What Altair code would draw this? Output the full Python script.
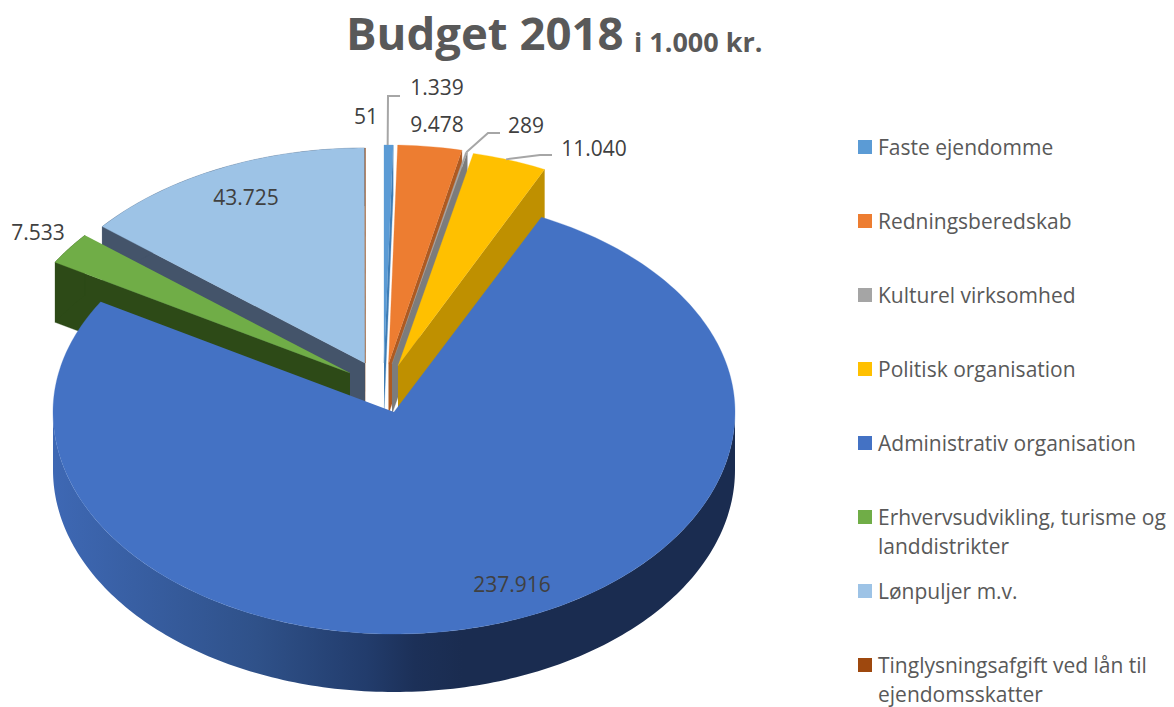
import numpy as np
import pandas as pd
import altair as alt

# ---- data
categories = ["Faste ejendomme", "Redningsberedskab", "Kulturel virksomhed", "Politisk organisation",
              "Administrativ organisation", "Erhvervsudvikling, turisme og landdistrikter",
              "Lønpuljer m.v.", "Tinglysningsafgift ved lån til ejendomsskatter"]
values = [1339, 9478, 289, 11040, 237916, 7533, 43725, 51]
value_labels = ["1.339", "9.478", "289", "11.040", "237.916", "7.533", "43.725", "51"]

# ---- styles
top_colors = ["#5B9BD5", "#ED7D31", "#A5A5A5", "#FFC000", "#4472C4", "#70AD47", "#9DC3E6", "#9E480E"]
wall_colors = ["#3F7DB5", "#AE5A21", "#7C7C7C", "#BF9000", "#223C6B", "#2D4A17", "#44546A", "#6E320A"]
legend_lines = [["Faste ejendomme"], ["Redningsberedskab"], ["Kulturel virksomhed"], ["Politisk organisation"],
                ["Administrativ organisation"], ["Erhvervsudvikling, turisme og", "landdistrikter"],
                ["Lønpuljer m.v."], ["Tinglysningsafgift ved lån til", "ejendomsskatter"]]

# ---- layout (page pixels)
apex = [(384, 363), (388.5, 364), (392, 364), (398, 366), (394, 412), (350, 373), (365, 363), (365.4, 363)]
radii_x = [339, 339, 339, 339, 341, 343, 340, 340]
radii_back = [218, 219, 217, 218, 216, 217, 215, 215]   # half height behind the centre
radii_front = [218, 219, 217, 218, 222, 217, 215, 215]  # half height in front of the centre
depth = [50, 50, 50, 50, 58, 60, 58, 58]
draw_order = [6, 7, 5, 0, 1, 2, 3, 4]
label_pos = [(437, 87), (437, 124), (526, 125), (594, 148), (512, 584), (38, 232), (246, 197), (366, 116)]
legend_y = [147, 221, 295, 369, 443, 517, 591, 665]
leader_slices = [(0, 0.4, [(388, 96), (400, 96)]), (2, 0.5, [(488, 133), (500, 133)]),
                 (3, 0.45, [(540, 155), (552, 155)])]

W, H = 1158, 699
xs = alt.X("x:Q", scale=alt.Scale(domain=[8, 8 + W], nice=False, zero=False), axis=None)
ys = alt.Y("y:Q", scale=alt.Scale(domain=[8 + H, 8], nice=False, zero=False), axis=None)

bounds = np.concatenate([[0], np.cumsum(values)]) / sum(values) * 2 * np.pi


def rim(i, t, dz=0.0):
    ax, ay = apex[i]
    c = np.cos(t)
    ry = np.where(c >= 0, radii_back[i], radii_front[i])
    return ax + radii_x[i] * np.sin(t), ay - ry * c + dz


def poly(px, py, **mark):
    d = pd.DataFrame({"x": px, "y": py, "k": np.arange(len(px))})
    return alt.Chart(d).mark_line(**mark).encode(x=xs, y=ys, order="k:Q")


def shape(px, py, color):
    return poly(px, py, fill=color, stroke=color, strokeWidth=0.3)


layers = []
for i in draw_order:
    a0, a1 = bounds[i], bounds[i + 1]
    ax, ay = apex[i]
    dz = depth[i]
    t = np.linspace(a0, a1, max(3, int((a1 - a0) * 60)))
    if i == 4:
        # curved outer wall of the big slice, shaded left to right
        tw = np.linspace(np.pi * 0.5, np.pi * 1.5, 181)
        x1, y1 = rim(i, tw)
        x2, y2 = rim(i, tw[::-1], dz)
        grad = alt.Gradient(gradient="linear", x1=0, y1=0, x2=1, y2=0, stops=[
            alt.GradientStop(color="#3E68B4", offset=0),
            alt.GradientStop(color="#2F5189", offset=0.3),
            alt.GradientStop(color="#223C6C", offset=0.46),
            alt.GradientStop(color="#1C3058", offset=0.53),
            alt.GradientStop(color="#1A2C50", offset=0.6),
            alt.GradientStop(color="#1A2C50", offset=1)])
        layers.append(poly(np.r_[x1, x2], np.r_[y1, y2], fill=grad, strokeWidth=0))
    else:
        # radial wall that faces the viewer, then the outer wall where it shows
        edge = a1 if a1 < np.pi else a0
        ex, ey = rim(i, edge)
        layers.append(shape([ax, ex, ex, ax], [ay, ey, ey + dz, ay + dz], wall_colors[i]))
        if i in (5, 6):
            tt = np.linspace(a0, a1, 30)
            x1, y1 = rim(i, tt)
            x2, y2 = rim(i, tt[::-1], dz)
            layers.append(shape(np.r_[x1, x2], np.r_[y1, y2], wall_colors[i]))
    x, y = rim(i, t)
    layers.append(shape(np.r_[ax, x], np.r_[ay, y], top_colors[i]))

# leader lines start on the rim of their slice
for i, frac, elbow in leader_slices:
    sx, sy = rim(i, bounds[i] + frac * (bounds[i + 1] - bounds[i]))
    layers.append(poly([sx] + [p[0] for p in elbow], [sy] + [p[1] for p in elbow],
                       stroke="#A6A6A6", strokeWidth=2))

font = "Open Sans"
lab = pd.DataFrame({"x": [p[0] for p in label_pos], "y": [p[1] for p in label_pos], "t": value_labels})
layers.append(alt.Chart(lab).mark_text(font=font, fontSize=21, color="#404040", align="center",
                                       baseline="middle", dy=1.5).encode(x=xs, y=ys, text="t:N"))

leg = pd.DataFrame({"x": [865] * len(categories), "y": legend_y, "c": top_colors, "name": categories})
layers.append(alt.Chart(leg).mark_square(size=196, opacity=1, filled=True).encode(
    x=xs, y=ys, color=alt.Color("c:N", scale=None), tooltip="name:N"))
rows = [{"x": 878, "y": y + 29 * j, "t": line}
        for y, lines in zip(legend_y, legend_lines) for j, line in enumerate(lines)]
layers.append(alt.Chart(pd.DataFrame(rows)).mark_text(font=font, fontSize=21, color="#595959", align="left",
                                                      baseline="middle", dy=1.5).encode(x=xs, y=ys, text="t:N"))

title = pd.DataFrame({"x": [346], "y": [50], "t": ["Budget 2018"]})
layers.append(alt.Chart(title).mark_text(font=font, fontSize=45.5, fontWeight="bold", color="#595959",
                                         align="left", baseline="alphabetic").encode(x=xs, y=ys, text="t:N"))
sub = pd.DataFrame({"x": [634], "y": [52], "t": ["i 1.000 kr."]})
layers.append(alt.Chart(sub).mark_text(font=font, fontSize=27, fontWeight="bold", color="#595959",
                                       align="left", baseline="alphabetic").encode(x=xs, y=ys, text="t:N"))

chart = alt.layer(*layers).properties(width=W, height=H, padding=0, autosize="none").configure_view(stroke=None)
chart.save("out.html", embed_options={"renderer": "svg", "actions": False})
